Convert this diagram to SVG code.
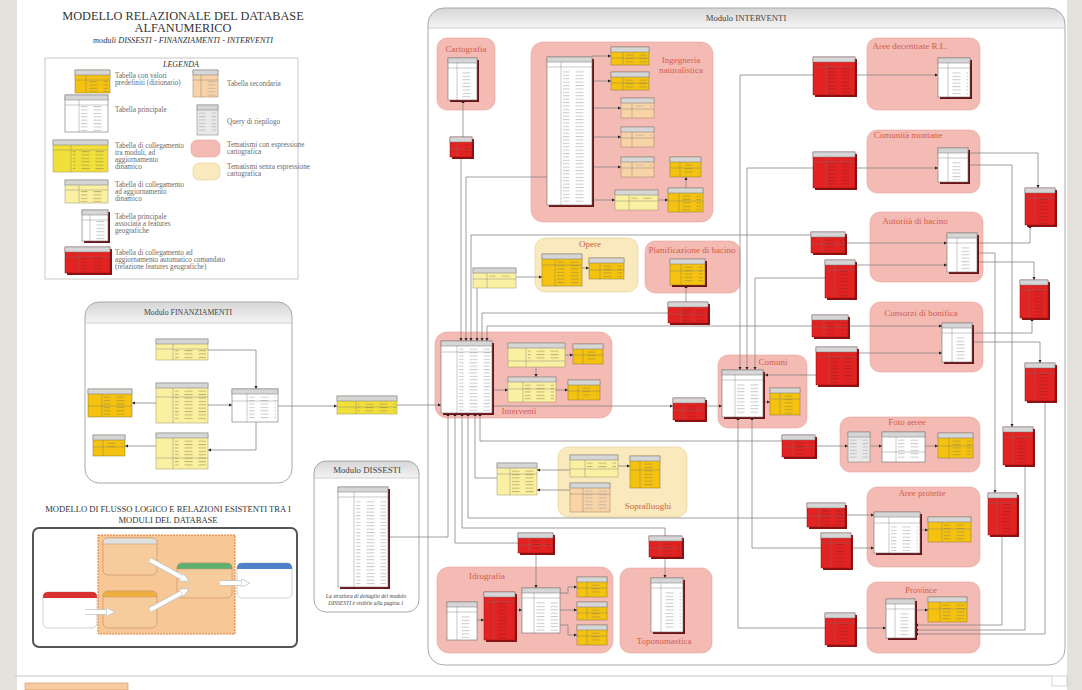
<svg xmlns="http://www.w3.org/2000/svg" width="1082" height="690" viewBox="0 0 1082 690">
<defs>
<linearGradient id="gI" x1="0" y1="0" x2="0" y2="1"><stop offset="0" stop-color="#d6d6d6"/><stop offset="0.03" stop-color="#f4f4f4"/><stop offset="0.0305" stop-color="#fff"/><stop offset="1" stop-color="#fff"/></linearGradient>
<linearGradient id="gF" x1="0" y1="0" x2="0" y2="1"><stop offset="0" stop-color="#d6d6d6"/><stop offset="0.115" stop-color="#f4f4f4"/><stop offset="0.117" stop-color="#fff"/><stop offset="1" stop-color="#fff"/></linearGradient>
<linearGradient id="gD" x1="0" y1="0" x2="0" y2="1"><stop offset="0" stop-color="#d6d6d6"/><stop offset="0.112" stop-color="#f4f4f4"/><stop offset="0.114" stop-color="#fff"/><stop offset="1" stop-color="#fff"/></linearGradient>
<pattern id="tp" width="14" height="3.4" patternUnits="userSpaceOnUse"><rect x="0.5" y="1.2" width="8" height="0.6" fill="#a6a6a6"/></pattern>
<pattern id="tr" width="14" height="3.4" patternUnits="userSpaceOnUse"><rect x="0.5" y="1.2" width="8" height="0.6" fill="#9a2020"/></pattern>
<pattern id="ty" width="14" height="3.4" patternUnits="userSpaceOnUse"><rect x="0.5" y="1.2" width="8" height="0.6" fill="#a08a40"/></pattern>
<marker id="ar" viewBox="0 0 6 6" refX="6" refY="3" markerWidth="4" markerHeight="4" orient="auto"><path d="M0 0L6 3L0 6z" fill="#222"/></marker>
<marker id="wa" viewBox="0 0 10 10" refX="2" refY="5" markerWidth="2.2" markerHeight="2.2" orient="auto"><path d="M0 0L10 5L0 10z" fill="#fff" stroke="#bbb" stroke-width="0.8"/></marker>
<style>
.ti{font-family:"Liberation Serif",serif;fill:#333}
.lg{font-family:"Liberation Serif",serif;font-size:7.2px;fill:#6a6a6a}
.mt{font-family:"Liberation Serif",serif;fill:#444;text-anchor:middle}
.zl{font-family:"Liberation Serif",serif;font-size:9px;fill:#d0604c;text-anchor:middle}
.mod{stroke:#a8a8a8;stroke-width:1}
.zp{fill:#f4bab4;stroke:#e8a49c;stroke-width:0.6}
.zy{fill:#f9e9bc;stroke:#e8cf90;stroke-width:0.6}
.sh{fill:#6b1014}
.rs{fill:#8b1212}
.w{fill:#fff;stroke:#6f6f6f;stroke-width:.6}
.dy{fill:#f4c20f;stroke:#8c7a3a;stroke-width:.5}
.ly{fill:#faf0a2;stroke:#9c9466;stroke-width:.5}
.by{fill:#f2e03a;stroke:#9c9466;stroke-width:.5}
.pe{fill:#f8d3a6;stroke:#a08060;stroke-width:.5}
.rd{fill:#e32222;stroke:#8a1010;stroke-width:.5}
.q{fill:#e9e9e9;stroke:#777;stroke-width:.5}
.hd{fill:#d6d6d6;stroke:#777;stroke-width:.5}
.dv{fill:none;stroke:#777;stroke-width:.4}
.c{fill:none;stroke:#858585;stroke-width:.8;marker-end:url(#ar)}
.wb{fill:none;stroke:#c4c4c4;stroke-width:5.5}
.wf{fill:none;stroke:#fff;stroke-width:4;marker-end:url(#wa)}
</style>
</defs>

<rect width="1082" height="690" fill="#fff"/>
<rect x="0" y="0" width="17" height="690" fill="#e5e2de"/>
<rect x="1067" y="0" width="15" height="690" fill="#e4e1dc"/>
<path d="M15 676H1052" stroke="#c8c8c8" stroke-width="1.2"/>
<rect x="25" y="683" width="103" height="7" fill="#f8caa0" stroke="#d09060" stroke-width="0.6"/>
<rect x="1052" y="676" width="15" height="10" fill="#fff" stroke="#aaa" stroke-width="0.5"/>

<g id="title">
<text class="ti" x="183" y="20" font-size="12.3" text-anchor="middle">MODELLO RELAZIONALE DEL DATABASE</text>
<text class="ti" x="183" y="32" font-size="12.3" text-anchor="middle">ALFANUMERICO</text>
<text class="ti" x="183" y="43" font-size="8.3" font-style="italic" text-anchor="middle">moduli DISSESTI - FINANZIAMENTI - INTERVENTI</text>
</g>

<g id="legenda">
<rect x="45" y="58" width="253" height="221" fill="#fff" stroke="#bbb" stroke-width="0.8"/>
<text class="ti" x="181" y="67" font-size="8" font-style="italic" text-anchor="middle">LEGENDA</text>
<g transform="translate(75 70)"><rect class="dy" width="35" height="23"/><rect class="hd" width="35" height="5"/><path class="dv" d="M11 5V23M0 10H35"/><rect fill="url(#ty)" x="13" y="11" width="20" height="11"/></g>
<g transform="translate(65 95)"><rect class="w" width="43" height="37"/><rect class="hd" width="43" height="5"/><path class="dv" d="M14 5V37M0 10H43"/><rect fill="url(#tp)" x="16" y="11" width="25" height="25"/></g>
<g transform="translate(53 140)"><rect class="by" width="55" height="32"/><rect class="hd" width="55" height="5"/><path class="dv" d="M18 5V32M0 10H55"/><rect fill="url(#ty)" x="20" y="11" width="33" height="20"/></g>
<g transform="translate(65 180)"><rect class="ly" width="43" height="23"/><rect class="hd" width="43" height="5"/><path class="dv" d="M14 5V23M0 10H43"/><rect fill="url(#ty)" x="16" y="11" width="25" height="11"/></g>
<g transform="translate(82 210)"><rect class="sh" x="2" y="2" width="26" height="31"/><rect class="w" width="26" height="31"/><rect class="hd" width="26" height="5"/><path class="dv" d="M8 5V31M0 10H26"/><rect fill="url(#tp)" x="10" y="11" width="14" height="19"/></g>
<g transform="translate(65 247)"><rect class="rs" x="2" y="2" width="45" height="26"/><rect class="rd" width="45" height="26"/><rect class="hd" width="45" height="5"/><path class="dv" d="M14 5V26M0 10H45"/><rect fill="url(#tr)" x="16" y="11" width="27" height="14"/></g>
<g transform="translate(193 70)"><rect class="pe" width="25" height="27"/><rect class="hd" width="25" height="5"/><path class="dv" d="M8 5V27M0 10H25"/><rect fill="url(#tp)" x="10" y="11" width="13" height="15"/></g>
<g transform="translate(197 105)"><rect class="q" width="21" height="30"/><rect class="hd" width="21" height="5"/><rect fill="url(#tp)" x="2" y="7" width="17" height="21"/></g>
<rect x="191" y="140" width="29" height="17" rx="6" class="zp"/>
<rect x="193" y="163" width="27" height="17" rx="6" class="zy"/>
<text class="lg" x="115" y="78">Tabella con valori</text>
<text class="lg" x="115" y="85">predefiniti (dizionario)</text>
<text class="lg" x="115" y="112">Tabella principale</text>
<text class="lg" x="115" y="148">Tabella di collegamento</text>
<text class="lg" x="115" y="155">tra moduli, ad</text>
<text class="lg" x="115" y="162">aggiornamento</text>
<text class="lg" x="115" y="169">dinamico</text>
<text class="lg" x="115" y="187">Tabella di collegamento</text>
<text class="lg" x="115" y="194">ad aggiornamento</text>
<text class="lg" x="115" y="201">dinamico</text>
<text class="lg" x="115" y="219">Tabella principale</text>
<text class="lg" x="115" y="226">associata a features</text>
<text class="lg" x="115" y="233">geografiche</text>
<text class="lg" x="115" y="255">Tabella di collegamento ad</text>
<text class="lg" x="115" y="262">aggiornamento automatico comandato</text>
<text class="lg" x="115" y="269">(relazione features geografiche)</text>
<text class="lg" x="227" y="86">Tabella secondaria</text>
<text class="lg" x="227" y="124">Query di riepilogo</text>
<text class="lg" x="227" y="147">Tematismi con espressione</text>
<text class="lg" x="227" y="154">cartografica</text>
<text class="lg" x="227" y="169">Tematismi senza espressione</text>
<text class="lg" x="227" y="176">cartografica</text>
</g>

<g id="mod-finanziamenti">
<rect x="85" y="302" width="207" height="181" rx="14" class="mod" fill="url(#gF)"/>
<path d="M85 323H292" stroke="#c4c4c4" stroke-width="0.8"/>
<text class="mt" x="188" y="315" font-size="7.8">Modulo FINANZIAMENTI</text>
</g>
<g id="mod-dissesti">
<rect x="314" y="461" width="105" height="151" rx="12" class="mod" fill="url(#gD)"/>
<path d="M314 478H419" stroke="#c4c4c4" stroke-width="0.8"/>
<text class="mt" x="367" y="473" font-size="8.8">Modulo DISSESTI</text>
<text class="mt" x="366" y="598" font-size="5.6" font-style="italic">La struttura di dettaglio del modulo</text>
<text class="mt" x="366" y="604.5" font-size="5.6" font-style="italic">DISSESTI è visibile alla pagina 1</text>
</g>
<g id="mod-interventi">
<rect x="428" y="8" width="637" height="657" rx="16" class="mod" fill="url(#gI)"/>
<path d="M428 28H1065" stroke="#c4c4c4" stroke-width="0.8"/>
<text class="mt" x="746" y="21" font-size="8.7">Modulo INTERVENTI</text>
</g>

<g id="zones">
<g id="z-cartografia"><rect x="437" y="38" width="58" height="72" rx="10" class="zp"/><text class="zl" x="466" y="52">Cartografia</text></g>
<g id="z-ingegneria"><rect x="531" y="42" width="182" height="180" rx="12" class="zp"/><text class="zl" x="681" y="63">Ingegneria</text><text class="zl" x="681" y="73">naturalistica</text></g>
<g id="z-opere"><rect x="535" y="238" width="103" height="54" rx="10" class="zy"/><text class="zl" x="590" y="247">Opere</text></g>
<g id="z-pianificazione"><rect x="645" y="241" width="95" height="52" rx="10" class="zp"/><text class="zl" x="692" y="253" font-size="8.8">Pianificazione di bacino</text></g>
<g id="z-interventi"><rect x="435" y="332" width="177" height="86" rx="12" class="zp"/><text class="zl" x="519" y="414">Interventi</text></g>
<g id="z-comuni"><rect x="718" y="355" width="89" height="73" rx="10" class="zp"/><text class="zl" x="773" y="365">Comuni</text></g>
<g id="z-aree-decentrate"><rect x="867" y="38" width="113" height="72" rx="10" class="zp"/><text class="zl" x="910" y="49">Aree decentrate R.L.</text></g>
<g id="z-comunita"><rect x="867" y="130" width="113" height="63" rx="10" class="zp"/><text class="zl" x="908" y="138">Comunità montane</text></g>
<g id="z-autorita"><rect x="870" y="212" width="113" height="70" rx="10" class="zp"/><text class="zl" x="915" y="224">Autorità di bacino</text></g>
<g id="z-consorzi"><rect x="870" y="302" width="113" height="70" rx="10" class="zp"/><text class="zl" x="921" y="316">Consorzi di bonifica</text></g>
<g id="z-foto"><rect x="840" y="417" width="140" height="55" rx="10" class="zp"/><text class="zl" x="907" y="425">Foto aeree</text></g>
<g id="z-aree-protette"><rect x="867" y="487" width="113" height="80" rx="10" class="zp"/><text class="zl" x="922" y="496">Aree protette</text></g>
<g id="z-province"><rect x="867" y="582" width="113" height="71" rx="10" class="zp"/><text class="zl" x="921" y="593">Province</text></g>
<g id="z-sopralluoghi"><rect x="558" y="447" width="129" height="70" rx="10" class="zy"/><text class="zl" x="648" y="509">Sopralluoghi</text></g>
<g id="z-idrografia"><rect x="437" y="567" width="176" height="86" rx="12" class="zp"/><text class="zl" x="487" y="579">Idrografia</text></g>
<g id="z-toponomastica"><rect x="620" y="568" width="92" height="85" rx="10" class="zp"/><text class="zl" x="664" y="644">Toponomastica</text></g>
</g>

<g id="connectors">
<path class="c" d="M208 350H256V389"/>
<path class="c" d="M208 405H232"/>
<path class="c" d="M256 422V450H208"/>
<path class="c" d="M156 403H132"/>
<path class="c" d="M156 446H125"/>
<path class="c" d="M278 406H337"/>
<path class="c" d="M397 405H441"/>
<path class="c" d="M388 537H448V413"/>
<path class="c" d="M463 137V100"/>
<path class="c" d="M461 157V341"/>
<path class="c" d="M547 177H466V341"/>
<path class="c" d="M811 235H471V341"/>
<path class="c" d="M477 288V341"/>
<path class="c" d="M668 313H482V341"/>
<path class="c" d="M812 326H487V341"/>
<path class="c" d="M492 390H508"/>
<path class="c" d="M492 406H673"/>
<path class="c" d="M705 406H722"/>
<path class="c" d="M565 355H573"/>
<path class="c" d="M536 367V377"/>
<path class="c" d="M556 390H568"/>
<path class="c" d="M518 543H455V413"/>
<path class="c" d="M665 536V528H462V413"/>
<path class="c" d="M807 518H468V413"/>
<path class="c" d="M497 478H475V413"/>
<path class="c" d="M782 441H480V413"/>
<path class="c" d="M570 470H537"/>
<path class="c" d="M570 490H537"/>
<path class="c" d="M618 466H630"/>
<path class="c" d="M813 75H740V370"/>
<path class="c" d="M813 168H747V370"/>
<path class="c" d="M825 278H755V370"/>
<path class="c" d="M816 375H765"/>
<path class="c" d="M763 402H770"/>
<path class="c" d="M825 628H738V417"/>
<path class="c" d="M821 548H752V417"/>
<path class="c" d="M855 75H938"/>
<path class="c" d="M855 168H938"/>
<path class="c" d="M845 243H947"/>
<path class="c" d="M855 265H947"/>
<path class="c" d="M848 326H942"/>
<path class="c" d="M857 353H942"/>
<path class="c" d="M815 446H848"/>
<path class="c" d="M870 446H882"/>
<path class="c" d="M925 446H938"/>
<path class="c" d="M845 515H874"/>
<path class="c" d="M851 548H874"/>
<path class="c" d="M920 530H928"/>
<path class="c" d="M855 628H886"/>
<path class="c" d="M915 610H928"/>
<path class="c" d="M968 153H1038V188"/>
<path class="c" d="M968 165H1012V427"/>
<path class="c" d="M977 243H1030V225"/>
<path class="c" d="M977 253H995V493"/>
<path class="c" d="M977 262H1034V280"/>
<path class="c" d="M972 333H1032V318"/>
<path class="c" d="M972 342H1040V363"/>
<path class="c" d="M1045 401V634H915"/>
<path class="c" d="M1025 465V630H915"/>
<path class="c" d="M1002 535V625H915"/>
<path class="c" d="M536 553V588"/>
<path class="c" d="M477 620H484"/>
<path class="c" d="M515 610H522"/>
<path class="c" d="M560 593H568V587H577"/>
<path class="c" d="M560 610H577"/>
<path class="c" d="M560 625H568V635H577"/>
<path class="c" d="M665 557V578"/>
<path class="c" d="M592 56H611"/>
<path class="c" d="M592 81H611"/>
<path class="c" d="M592 108H621"/>
<path class="c" d="M592 137H621"/>
<path class="c" d="M592 167H621"/>
<path class="c" d="M592 200H615"/>
<path class="c" d="M658 200H668"/>
<path class="c" d="M686 188V177"/>
<path class="c" d="M516 277H542"/>
<path class="c" d="M582 268H589"/>
<path class="c" d="M686 302V285"/>
</g>

<g id="fin-tables">
<g id="f1" transform="translate(156 339)"><rect class="ly" width="52" height="21"/><rect class="hd" width="52" height="5"/><path class="dv" d="M17 5V21M0 10H52"/><rect fill="url(#ty)" x="19" y="11" width="31" height="9"/></g>
<g id="f2" transform="translate(156 383)"><rect class="ly" width="52" height="40"/><rect class="hd" width="52" height="5"/><path class="dv" d="M17 5V40M0 14H52"/><rect fill="url(#ty)" x="19" y="7" width="31" height="31"/></g>
<g id="f3" transform="translate(156 433)"><rect class="ly" width="52" height="36"/><rect class="hd" width="52" height="5"/><path class="dv" d="M17 5V36M0 25H52"/><rect fill="url(#ty)" x="19" y="7" width="31" height="27"/></g>
<g id="f4" transform="translate(88 389)"><rect class="dy" width="44" height="28"/><rect class="hd" width="44" height="5"/><path class="dv" d="M14 5V28M0 17H44"/><rect fill="url(#ty)" x="16" y="7" width="26" height="19"/></g>
<g id="f5" transform="translate(93 435)"><rect class="dy" width="32" height="21"/><rect class="hd" width="32" height="5"/><path class="dv" d="M10 5V21M0 12H32"/><rect fill="url(#ty)" x="12" y="7" width="18" height="5"/></g>
<g id="f6" transform="translate(232 389)"><rect class="w" width="46" height="33"/><rect class="hd" width="46" height="5"/><path class="dv" d="M15 5V33M0 12H46"/><rect fill="url(#tp)" x="17" y="7" width="27" height="24"/></g>
<g id="fin-link" transform="translate(337 396)"><rect class="by" width="60" height="18"/><rect class="hd" width="60" height="5"/><path class="dv" d="M19 5V18M0 11H60"/><rect fill="url(#ty)" x="21" y="6" width="37" height="11"/></g>
</g>

<g id="dissesti-table" transform="translate(338 487)"><rect class="sh" x="2" y="2" width="50" height="100"/><rect class="w" width="50" height="100"/><rect class="hd" width="50" height="5"/><path class="dv" d="M16 5V100M0 10H50"/><rect fill="url(#tp)" x="18" y="12" width="30" height="86"/></g>

<g id="int-tables">
<g id="cart-t" transform="translate(448 58)"><rect class="sh" x="2" y="2" width="29" height="42"/><rect class="w" width="29" height="42"/><rect class="hd" width="29" height="5"/><path class="dv" d="M9 5V42M0 10H29"/><rect fill="url(#tp)" x="11" y="14" width="16" height="26"/></g>
<g id="cart-r" transform="translate(450 137)"><rect class="rs" x="2" y="2" width="22" height="20"/><rect class="rd" width="22" height="20"/><rect class="hd" width="22" height="5"/><path class="dv" d="M7 5V20M0 12H22"/><rect fill="url(#tr)" x="9" y="6" width="11" height="12"/></g>
<g id="ing-t" transform="translate(547 57)"><rect class="sh" x="2" y="2" width="45" height="148"/><rect class="w" width="45" height="148"/><rect class="hd" width="45" height="5"/><path class="dv" d="M14 5V148M0 10H45"/><rect fill="url(#tp)" x="16" y="12" width="27" height="134"/></g>
<g id="ing1" transform="translate(611 47)"><rect class="dy" width="38" height="18"/><rect class="hd" width="38" height="5"/><path class="dv" d="M12 5V18M0 11H38"/><rect fill="url(#ty)" x="14" y="6" width="22" height="11"/></g>
<g id="ing2" transform="translate(611 72)"><rect class="dy" width="38" height="18"/><rect class="hd" width="38" height="5"/><path class="dv" d="M12 5V18M0 11H38"/><rect fill="url(#ty)" x="14" y="6" width="22" height="11"/></g>
<g id="ing3" transform="translate(621 98)"><rect class="pe" width="33" height="20"/><rect class="hd" width="33" height="5"/><path class="dv" d="M11 5V20M0 11H33"/><rect fill="url(#tp)" x="13" y="6" width="18" height="5"/></g>
<g id="ing4" transform="translate(621 127)"><rect class="pe" width="33" height="20"/><rect class="hd" width="33" height="5"/><path class="dv" d="M11 5V20M0 11H33"/><rect fill="url(#tp)" x="13" y="6" width="18" height="5"/></g>
<g id="ing5" transform="translate(621 157)"><rect class="pe" width="33" height="20"/><rect class="hd" width="33" height="5"/><path class="dv" d="M11 5V20M0 11H33"/><rect fill="url(#tp)" x="13" y="6" width="18" height="5"/></g>
<g id="ing6" transform="translate(615 190)"><rect class="ly" width="43" height="20"/><rect class="hd" width="43" height="5"/><path class="dv" d="M14 5V20M0 11H43"/><rect fill="url(#ty)" x="16" y="6" width="25" height="5"/></g>
<g id="ing7" transform="translate(670 157)"><rect class="dy" width="31" height="20"/><rect class="hd" width="31" height="5"/><path class="dv" d="M10 5V20M0 11H31"/><rect fill="url(#ty)" x="12" y="6" width="17" height="12"/></g>
<g id="ing8" transform="translate(668 188)"><rect class="dy" width="35" height="24"/><rect class="hd" width="35" height="5"/><path class="dv" d="M11 5V24M0 13H35"/><rect fill="url(#ty)" x="13" y="6" width="20" height="17"/></g>
<g id="opere-link" transform="translate(473 268)"><rect class="ly" width="43" height="20"/><rect class="hd" width="43" height="5"/><path class="dv" d="M14 5V20M0 11H43"/><rect fill="url(#ty)" x="16" y="6" width="25" height="5"/></g>
<g id="opere1" transform="translate(542 254)"><rect class="dy" width="40" height="32"/><rect class="hd" width="40" height="5"/><path class="dv" d="M13 5V32M0 11H40"/><rect fill="url(#ty)" x="15" y="6" width="23" height="25"/></g>
<g id="opere2" transform="translate(589 258)"><rect class="dy" width="35" height="21"/><rect class="hd" width="35" height="5"/><path class="dv" d="M11 5V21M0 12H35"/><rect fill="url(#ty)" x="13" y="6" width="20" height="14"/></g>
<g id="pian-t" transform="translate(670 259)"><rect class="sh" x="2" y="2" width="35" height="26"/><rect class="dy" width="35" height="26"/><rect class="hd" width="35" height="5"/><path class="dv" d="M11 5V26M0 12H35"/><rect fill="url(#ty)" x="13" y="6" width="20" height="18"/></g>
<g id="pian-r" transform="translate(668 302)"><rect class="rs" x="2" y="2" width="40" height="21"/><rect class="rd" width="40" height="21"/><rect class="hd" width="40" height="5"/><path class="dv" d="M13 5V21M0 12H40"/><rect fill="url(#tr)" x="15" y="6" width="23" height="14"/></g>
<g id="interventi-t" transform="translate(441 341)"><rect class="sh" x="2" y="2" width="51" height="72"/><rect class="w" width="51" height="72"/><rect class="hd" width="51" height="5"/><path class="dv" d="M16 5V72M0 11H51"/><rect fill="url(#tp)" x="18" y="6" width="31" height="64"/></g>
<g id="iv1" transform="translate(508 343)"><rect class="ly" width="57" height="24"/><rect class="hd" width="57" height="5"/><path class="dv" d="M18 5V24M0 18H57"/><rect fill="url(#ty)" x="20" y="6" width="35" height="11"/></g>
<g id="iv2" transform="translate(573 344)"><rect class="dy" width="30" height="20"/><rect class="hd" width="30" height="5"/><path class="dv" d="M10 5V20M0 11H30"/><rect fill="url(#ty)" x="12" y="6" width="16" height="12"/></g>
<g id="iv3" transform="translate(508 377)"><rect class="ly" width="48" height="25"/><rect class="hd" width="48" height="5"/><path class="dv" d="M15 5V25M0 12H48"/><rect fill="url(#ty)" x="17" y="6" width="29" height="17"/></g>
<g id="iv4" transform="translate(568 380)"><rect class="dy" width="32" height="20"/><rect class="hd" width="32" height="5"/><path class="dv" d="M10 5V20M0 11H32"/><rect fill="url(#ty)" x="12" y="6" width="18" height="12"/></g>
<g id="int-com-r" transform="translate(673 398)"><rect class="rs" x="2" y="2" width="32" height="22"/><rect class="rd" width="32" height="22"/><rect class="hd" width="32" height="5"/><path class="dv" d="M10 5V22M0 12H32"/><rect fill="url(#tr)" x="12" y="6" width="18" height="14"/></g>
<g id="comuni-t" transform="translate(722 370)"><rect class="sh" x="2" y="2" width="41" height="47"/><rect class="w" width="41" height="47"/><rect class="hd" width="41" height="5"/><path class="dv" d="M13 5V47M0 10H41"/><rect fill="url(#tp)" x="15" y="14" width="24" height="31"/></g>
<g id="comuni-d" transform="translate(770 388)"><rect class="dy" width="30" height="27"/><rect class="hd" width="30" height="5"/><path class="dv" d="M10 5V27M0 11H30"/><rect fill="url(#ty)" x="12" y="6" width="16" height="20"/></g>
<g id="ad-t" transform="translate(938 58)"><rect class="sh" x="2" y="2" width="32" height="39"/><rect class="w" width="32" height="39"/><rect class="hd" width="32" height="5"/><path class="dv" d="M10 5V39M0 10H32"/><rect fill="url(#tp)" x="12" y="14" width="18" height="23"/></g>
<g id="ad-r" transform="translate(813 57)"><rect class="rs" x="2" y="2" width="42" height="38"/><rect class="rd" width="42" height="38"/><rect class="hd" width="42" height="5"/><path class="dv" d="M13 5V38M0 10H42"/><rect fill="url(#tr)" x="15" y="11" width="25" height="26"/></g>
<g id="cm-t" transform="translate(938 148)"><rect class="sh" x="2" y="2" width="30" height="34"/><rect class="w" width="30" height="34"/><rect class="hd" width="30" height="5"/><path class="dv" d="M10 5V34M0 10H30"/><rect fill="url(#tp)" x="12" y="14" width="16" height="18"/></g>
<g id="cm-r" transform="translate(813 152)"><rect class="rs" x="2" y="2" width="42" height="36"/><rect class="rd" width="42" height="36"/><rect class="hd" width="42" height="5"/><path class="dv" d="M13 5V36M0 10H42"/><rect fill="url(#tr)" x="15" y="11" width="25" height="24"/></g>
<g id="au-t" transform="translate(947 233)"><rect class="sh" x="2" y="2" width="30" height="39"/><rect class="w" width="30" height="39"/><rect class="hd" width="30" height="5"/><path class="dv" d="M10 5V39M0 10H30"/><rect fill="url(#tp)" x="12" y="14" width="16" height="23"/></g>
<g id="au-r1" transform="translate(811 232)"><rect class="rs" x="2" y="2" width="34" height="21"/><rect class="rd" width="34" height="21"/><rect class="hd" width="34" height="5"/><path class="dv" d="M11 5V21M0 12H34"/><rect fill="url(#tr)" x="13" y="6" width="19" height="14"/></g>
<g id="au-r2" transform="translate(825 260)"><rect class="rs" x="2" y="2" width="30" height="38"/><rect class="rd" width="30" height="38"/><rect class="hd" width="30" height="5"/><path class="dv" d="M10 5V38M0 10H30"/><rect fill="url(#tr)" x="12" y="11" width="16" height="26"/></g>
<g id="cb-t" transform="translate(942 323)"><rect class="sh" x="2" y="2" width="30" height="39"/><rect class="w" width="30" height="39"/><rect class="hd" width="30" height="5"/><path class="dv" d="M10 5V39M0 10H30"/><rect fill="url(#tp)" x="12" y="14" width="16" height="23"/></g>
<g id="cb-r1" transform="translate(812 315)"><rect class="rs" x="2" y="2" width="36" height="22"/><rect class="rd" width="36" height="22"/><rect class="hd" width="36" height="5"/><path class="dv" d="M12 5V22M0 12H36"/><rect fill="url(#tr)" x="14" y="6" width="20" height="14"/></g>
<g id="cb-r2" transform="translate(816 347)"><rect class="rs" x="2" y="2" width="41" height="38"/><rect class="rd" width="41" height="38"/><rect class="hd" width="41" height="5"/><path class="dv" d="M13 5V38M0 10H41"/><rect fill="url(#tr)" x="15" y="11" width="24" height="26"/></g>
<g id="fa-q" transform="translate(848 432)"><rect class="q" width="22" height="30"/><rect class="hd" width="22" height="5"/><rect fill="url(#tp)" x="2" y="7" width="18" height="21"/></g>
<g id="fa-t" transform="translate(882 432)"><rect class="w" width="43" height="30"/><rect class="hd" width="43" height="5"/><path class="dv" d="M14 5V30M0 20H43"/><rect fill="url(#tp)" x="16" y="6" width="25" height="22"/></g>
<g id="fa-d" transform="translate(938 433)"><rect class="dy" width="35" height="25"/><rect class="hd" width="35" height="5"/><path class="dv" d="M11 5V25M0 13H35"/><rect fill="url(#ty)" x="13" y="6" width="20" height="18"/></g>
<g id="fa-r" transform="translate(782 435)"><rect class="rs" x="2" y="2" width="33" height="22"/><rect class="rd" width="33" height="22"/><rect class="hd" width="33" height="5"/><path class="dv" d="M11 5V22M0 12H33"/><rect fill="url(#tr)" x="13" y="6" width="18" height="14"/></g>
<g id="ap-t" transform="translate(874 512)"><rect class="sh" x="2" y="2" width="46" height="41"/><rect class="w" width="46" height="41"/><rect class="hd" width="46" height="5"/><path class="dv" d="M15 5V41M0 11H46"/><rect fill="url(#tp)" x="17" y="13" width="27" height="26"/></g>
<g id="ap-d" transform="translate(928 517)"><rect class="dy" width="43" height="25"/><rect class="hd" width="43" height="5"/><path class="dv" d="M14 5V25M0 12H43"/><rect fill="url(#ty)" x="16" y="6" width="25" height="18"/></g>
<g id="ap-r1" transform="translate(807 503)"><rect class="rs" x="2" y="2" width="38" height="24"/><rect class="rd" width="38" height="24"/><rect class="hd" width="38" height="5"/><path class="dv" d="M12 5V24M0 13H38"/><rect fill="url(#tr)" x="14" y="6" width="22" height="16"/></g>
<g id="ap-r2" transform="translate(821 533)"><rect class="rs" x="2" y="2" width="30" height="35"/><rect class="rd" width="30" height="35"/><rect class="hd" width="30" height="5"/><path class="dv" d="M10 5V35M0 10H30"/><rect fill="url(#tr)" x="12" y="11" width="16" height="23"/></g>
<g id="pv-t" transform="translate(886 599)"><rect class="sh" x="2" y="2" width="29" height="39"/><rect class="w" width="29" height="39"/><rect class="hd" width="29" height="5"/><path class="dv" d="M9 5V39M0 10H29"/><rect fill="url(#tp)" x="11" y="14" width="16" height="23"/></g>
<g id="pv-d" transform="translate(928 597)"><rect class="dy" width="39" height="25"/><rect class="hd" width="39" height="5"/><path class="dv" d="M12 5V25M0 12H39"/><rect fill="url(#ty)" x="14" y="6" width="23" height="18"/></g>
<g id="pv-r" transform="translate(825 613)"><rect class="rs" x="2" y="2" width="30" height="32"/><rect class="rd" width="30" height="32"/><rect class="hd" width="30" height="5"/><path class="dv" d="M10 5V32M0 10H30"/><rect fill="url(#tr)" x="12" y="11" width="16" height="20"/></g>
<g id="r1" transform="translate(1025 188)"><rect class="rs" x="2" y="2" width="30" height="37"/><rect class="rd" width="30" height="37"/><rect class="hd" width="30" height="5"/><path class="dv" d="M10 5V37M0 10H30"/><rect fill="url(#tr)" x="12" y="11" width="16" height="25"/></g>
<g id="r2" transform="translate(1020 280)"><rect class="rs" x="2" y="2" width="28" height="38"/><rect class="rd" width="28" height="38"/><rect class="hd" width="28" height="5"/><path class="dv" d="M9 5V38M0 10H28"/><rect fill="url(#tr)" x="11" y="11" width="15" height="26"/></g>
<g id="r3" transform="translate(1025 363)"><rect class="rs" x="2" y="2" width="30" height="38"/><rect class="rd" width="30" height="38"/><rect class="hd" width="30" height="5"/><path class="dv" d="M10 5V38M0 10H30"/><rect fill="url(#tr)" x="12" y="11" width="16" height="26"/></g>
<g id="r4" transform="translate(1003 427)"><rect class="rs" x="2" y="2" width="30" height="38"/><rect class="rd" width="30" height="38"/><rect class="hd" width="30" height="5"/><path class="dv" d="M10 5V38M0 10H30"/><rect fill="url(#tr)" x="12" y="11" width="16" height="26"/></g>
<g id="r5" transform="translate(988 493)"><rect class="rs" x="2" y="2" width="29" height="42"/><rect class="rd" width="29" height="42"/><rect class="hd" width="29" height="5"/><path class="dv" d="M9 5V42M0 10H29"/><rect fill="url(#tr)" x="11" y="11" width="16" height="30"/></g>
<g id="sop1" transform="translate(570 455)"><rect class="ly" width="48" height="22"/><rect class="hd" width="48" height="5"/><path class="dv" d="M15 5V22M0 14H48"/><rect fill="url(#ty)" x="17" y="6" width="29" height="8"/></g>
<g id="sop2" transform="translate(630 456)"><rect class="dy" width="30" height="32"/><rect class="hd" width="30" height="5"/><path class="dv" d="M10 5V32M0 14H30"/><rect fill="url(#ty)" x="12" y="6" width="16" height="25"/></g>
<g id="sop3" transform="translate(570 483)"><rect class="pe" width="40" height="29"/><rect class="hd" width="40" height="5"/><path class="dv" d="M13 5V29M0 11H40"/><rect fill="url(#tp)" x="15" y="6" width="23" height="22"/></g>
<g id="sop-link" transform="translate(497 463)"><rect class="ly" width="40" height="32"/><rect class="hd" width="40" height="5"/><path class="dv" d="M13 5V32M0 11H40"/><rect fill="url(#ty)" x="15" y="6" width="23" height="25"/></g>
<g id="id1" transform="translate(447 602)"><rect class="w" width="30" height="38"/><rect class="hd" width="30" height="5"/><path class="dv" d="M10 5V38M0 10H30"/><rect fill="url(#tp)" x="12" y="14" width="16" height="22"/></g>
<g id="id2" transform="translate(484 592)"><rect class="rs" x="2" y="2" width="31" height="48"/><rect class="rd" width="31" height="48"/><rect class="hd" width="31" height="5"/><path class="dv" d="M10 5V48M0 10H31"/><rect fill="url(#tr)" x="12" y="11" width="17" height="36"/></g>
<g id="id3" transform="translate(522 588)"><rect class="w" width="38" height="45"/><rect class="hd" width="38" height="5"/><path class="dv" d="M12 5V45M0 10H38"/><rect fill="url(#tp)" x="14" y="14" width="22" height="29"/></g>
<g id="id4" transform="translate(577 577)"><rect class="dy" width="30" height="20"/><rect class="hd" width="30" height="5"/><path class="dv" d="M10 5V20M0 11H30"/><rect fill="url(#ty)" x="12" y="6" width="16" height="12"/></g>
<g id="id5" transform="translate(577 602)"><rect class="dy" width="30" height="18"/><rect class="hd" width="30" height="5"/><path class="dv" d="M10 5V18M0 11H30"/><rect fill="url(#ty)" x="12" y="6" width="16" height="11"/></g>
<g id="id6" transform="translate(577 625)"><rect class="dy" width="30" height="20"/><rect class="hd" width="30" height="5"/><path class="dv" d="M10 5V20M0 11H30"/><rect fill="url(#ty)" x="12" y="6" width="16" height="12"/></g>
<g id="id-r" transform="translate(518 533)"><rect class="rs" x="2" y="2" width="35" height="20"/><rect class="rd" width="35" height="20"/><rect class="hd" width="35" height="5"/><path class="dv" d="M11 5V20M0 12H35"/><rect fill="url(#tr)" x="13" y="6" width="20" height="12"/></g>
<g id="topo-t" transform="translate(651 578)"><rect class="sh" x="2" y="2" width="32" height="54"/><rect class="w" width="32" height="54"/><rect class="hd" width="32" height="5"/><path class="dv" d="M10 5V54M0 10H32"/><rect fill="url(#tp)" x="12" y="14" width="18" height="38"/></g>
<g id="topo-r" transform="translate(649 536)"><rect class="rs" x="2" y="2" width="33" height="21"/><rect class="rd" width="33" height="21"/><rect class="hd" width="33" height="5"/><path class="dv" d="M11 5V21M0 12H33"/><rect fill="url(#tr)" x="13" y="6" width="18" height="14"/></g>
</g>

<g id="flusso">
<text class="ti" x="168" y="512" font-size="8.6" text-anchor="middle">MODELLO DI FLUSSO LOGICO E RELAZIONI ESISTENTI TRA I</text>
<text class="ti" x="168" y="523" font-size="8.6" text-anchor="middle">MODULI DEL DATABASE</text>
<rect x="33" y="528" width="264" height="119" rx="6" fill="#fff" stroke="#555" stroke-width="2"/>
<rect x="98" y="535" width="137" height="99" fill="#f7c896" stroke="#e07a3a" stroke-width="1" stroke-dasharray="2 1"/>
<g id="fl-fin"><rect x="103" y="538" width="54" height="37" rx="5" fill="#f7cc9c" stroke="#c8946a" stroke-width="0.7"/><path d="M103 544V543Q103 538 108 538H152Q157 538 157 543V544Z" fill="#e0e0e0" stroke="#c8946a" stroke-width="0.5"/></g>
<g id="fl-dis"><rect x="103" y="591" width="54" height="37" rx="5" fill="#f7cc9c" stroke="#c8946a" stroke-width="0.7"/><path d="M103 597V596Q103 591 108 591H152Q157 591 157 596V597Z" fill="#eeb040" stroke="#c8946a" stroke-width="0.5"/></g>
<g id="fl-int"><rect x="177" y="563" width="55" height="35" rx="5" fill="#f7cc9c" stroke="#c8946a" stroke-width="0.7"/><path d="M177 569V568Q177 563 182 563H227Q232 563 232 568V569Z" fill="#5eb070" stroke="#c8946a" stroke-width="0.5"/></g>
<g id="fl-left"><rect x="43" y="592" width="54" height="36" rx="5" fill="#fff" stroke="#bbb" stroke-width="0.7"/><path d="M43 598V597Q43 592 48 592H92Q97 592 97 597V598Z" fill="#d83030"/></g>
<g id="fl-right"><rect x="237" y="563" width="55" height="35" rx="5" fill="#fff" stroke="#bbb" stroke-width="0.7"/><path d="M237 569V568Q237 563 242 563H287Q292 563 292 568V569Z" fill="#5080c8"/></g>
<path class="wb" d="M85 612H108"/><path class="wf" d="M85 612H108"/>
<path class="wb" d="M150 560L183 578"/><path class="wf" d="M150 560L183 578"/>
<path class="wb" d="M150 610L183 592"/><path class="wf" d="M150 610L183 592"/>
<path class="wb" d="M220 583H243"/><path class="wf" d="M220 583H243"/>
</g>
</svg>
